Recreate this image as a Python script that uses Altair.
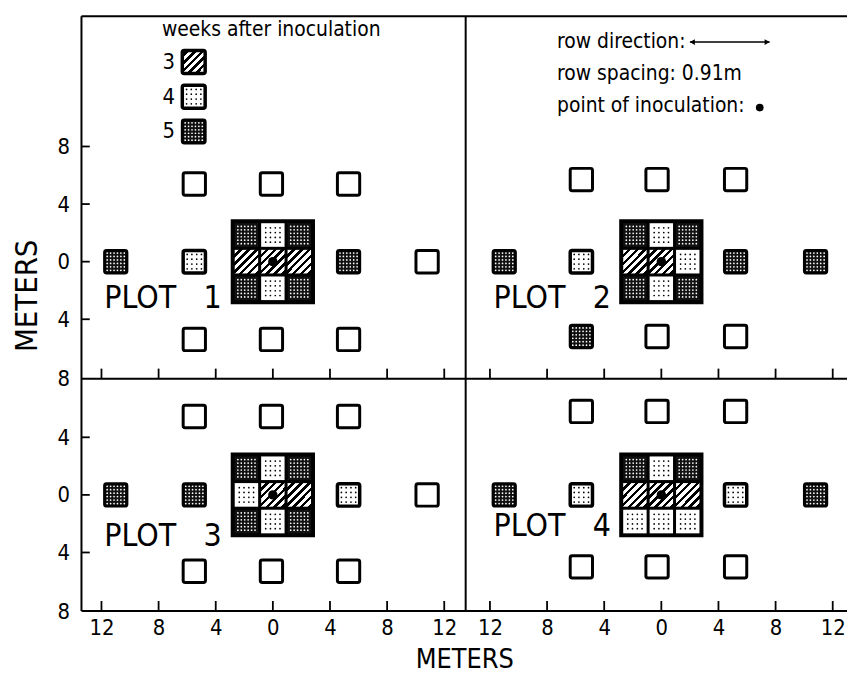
import altair as alt
import pandas as pd

FONT = "Liberation Sans Narrow, DejaVu Sans Condensed, sans-serif"

# ---------------- data (metres) ----------------
# panel offsets in one shared metre coordinate system (plot 1 top-left ... plot 4 bottom-right)
PANEL_DX = {1: 0.0, 2: 27.2, 3: 0.0, 4: 27.2}
PANEL_DY = {1: 16.2, 2: 16.2, 3: 0.0, 4: 0.0}
X_DOMAIN = [-13.4, 40.2]
Y_DOMAIN = [-8.07, 33.24]

# centre 3x3 block around the point of inoculation; weeks after inoculation, rows top -> bottom
block_cols = [-1.85, 0.0, 1.85]
block_rows = [1.85, 0.0, -1.85]
block_plot1 = [5, 4, 5, 3, 3, 3, 5, 4, 5]
block_plot2 = [5, 4, 5, 3, 3, 4, 5, 4, 5]
block_plot3 = [5, 4, 5, 4, 3, 3, 5, 4, 5]
block_plot4 = [5, 4, 5, 3, 3, 3, 4, 4, 4]
blocks = {1: block_plot1, 2: block_plot2, 3: block_plot3, 4: block_plot4}

# surrounding single plants (0 = no symptoms)
plants_x_left = [-5.5, -0.1, 5.3, -11.0, -5.5, 5.3, 10.8, -5.5, -0.1, 5.3]
plants_x_right = [-5.6, -0.3, 5.2, -11.0, -5.6, 5.2, 10.8, -5.6, -0.3, 5.2]
plot1_y = [5.4, 5.4, 5.4, 0, 0, 0, 0, -5.4, -5.4, -5.4]
plot2_y = [5.7, 5.7, 5.7, 0, 0, 0, 0, -5.2, -5.2, -5.2]
plot3_y = [5.45, 5.45, 5.45, 0, 0, 0, 0, -5.3, -5.3, -5.3]
plot4_y = [5.8, 5.8, 5.8, 0, 0, 0, 0, -5.0, -5.0, -5.0]
plot1_weeks = [0, 0, 0, 5, 4, 5, 0, 0, 0, 0]
plot2_weeks = [0, 0, 0, 5, 4, 5, 5, 5, 0, 0]
plot3_weeks = [0, 0, 0, 5, 5, 4, 0, 0, 0, 0]
plot4_weeks = [0, 0, 0, 5, 4, 4, 5, 0, 0, 0]
plants = {
    1: (plants_x_left, plot1_y, plot1_weeks),
    2: (plants_x_right, plot2_y, plot2_weeks),
    3: (plants_x_left, plot3_y, plot3_weeks),
    4: (plants_x_right, plot4_y, plot4_weeks),
}

# legend (plot 1) and notes (plot 2)
legend_weeks = [3, 4, 5]
legend_x = -5.54
legend_y = [13.87, 11.46, 9.04]
legend_title = "weeks after inoculation"
notes = ["row direction:", "row spacing: 0.91m", "point of inoculation:"]
notes_y = [15.25, 13.04, 10.83]

x_ticks_local = [-12, -8, -4, 0, 4, 8, 12]
y_ticks_local_top = [-4, 0, 4, 8]
y_ticks_local_bottom = [-4, 0, 4]

plot_labels = ["PLOT\u00a0\u00a0\u00a01", "PLOT\u00a0\u00a0\u00a02",
               "PLOT\u00a0\u00a0\u00a03", "PLOT\u00a0\u00a0\u00a04"]
plot_label_x = [-11.8, -11.75, -11.8, -11.75]
plot_label_y = [-2.54, -2.54, -2.83, -2.2]

# ---------------- build tables ----------------
sq = []
for p in (1, 2, 3, 4):
    dx, dy = PANEL_DX[p], PANEL_DY[p]
    for k, w in enumerate(blocks[p]):
        sq.append(dict(cx=block_cols[k % 3] + dx, cy=block_rows[k // 3] + dy, weeks=w, kind="cell"))
    xs, ys, ws = plants[p]
    for x, y, w in zip(xs, ys, ws):
        sq.append(dict(cx=x + dx, cy=y + dy, weeks=w, kind="plant"))
for w, y in zip(legend_weeks, legend_y):
    sq.append(dict(cx=legend_x + PANEL_DX[1], cy=y + PANEL_DY[1], weeks=w, kind="legend"))
sq = pd.DataFrame(sq)
half = sq["kind"].map({"cell": 0.82, "plant": 0.78, "legend": 0.8})
sq["gx"], sq["gx2"] = sq["cx"] - half, sq["cx"] + half
sq["gy"], sq["gy2"] = sq["cy"] - half, sq["cy"] + half

under = []
for p in (1, 2, 3, 4):
    dx, dy = PANEL_DX[p], PANEL_DY[p]
    under.append(dict(gx=-2.95 + dx, gx2=2.95 + dx, gy=-2.95 + dy, gy2=2.95 + dy))
under = pd.DataFrame(under)

# texture dots
dots = []
o4 = [-0.5, -0.17, 0.17, 0.5]
o5 = [-0.6, -0.36, -0.12, 0.12, 0.36, 0.6]
for r in sq.itertuples():
    if r.weeks == 4:
        for a in o4:
            for b in o4:
                dots.append(dict(gx=r.cx + a, gy=r.cy + b, c="k"))
    elif r.weeks == 5:
        for a in o5:
            for b in o5:
                dots.append(dict(gx=r.cx + a, gy=r.cy + b, c="w"))
dots = pd.DataFrame(dots)

inoc = pd.DataFrame([dict(gx=PANEL_DX[p], gy=PANEL_DY[p]) for p in (1, 2, 3, 4)]
                    + [dict(gx=6.89 + PANEL_DX[2], gy=10.7 + PANEL_DY[2])])
inoc["s"] = [90, 90, 90, 90, 60]

# frame and ticks
xl, xr = X_DOMAIN
yb, yt = Y_DOMAIN
xmid, ymid = 13.5, 8.07
frame = pd.DataFrame([
    dict(gx=xl, gy=yt, gx2=xr, gy2=yt),
    dict(gx=xl, gy=yb, gx2=xr, gy2=yb),
    dict(gx=xl, gy=ymid, gx2=xr, gy2=ymid),
    dict(gx=xl, gy=yb, gx2=xl, gy2=yt),
    dict(gx=xmid, gy=yb, gx2=xmid, gy2=yt),
])
ticks = []
x_tick_vals = []
for dx in (PANEL_DX[1], PANEL_DX[2]):
    for t in x_ticks_local:
        x_tick_vals.append(t + dx)
        for base in (yb, ymid):
            ticks.append(dict(gx=t + dx, gy=base, gx2=t + dx, gy2=base + 0.7))
y_tick_vals = [yb, ymid]
for t in y_ticks_local_top:
    v = t + PANEL_DY[1]
    y_tick_vals.append(v)
    ticks.append(dict(gx=xl, gy=v, gx2=xl + 0.58, gy2=v))
for t in y_ticks_local_bottom:
    y_tick_vals.append(t)
    ticks.append(dict(gx=xl, gy=t, gx2=xl + 0.58, gy2=t))
ticks = pd.DataFrame(ticks)

# texts
txt_plot = pd.DataFrame(dict(
    gx=[plot_label_x[i] + PANEL_DX[i + 1] for i in range(4)],
    gy=[plot_label_y[i] + PANEL_DY[i + 1] for i in range(4)],
    t=plot_labels))
txt_notes = pd.DataFrame(dict(
    gx=[-7.3 + PANEL_DX[2]] * 3 + [-7.77 + PANEL_DX[1]],
    gy=[y + PANEL_DY[2] for y in notes_y] + [16.08 + PANEL_DY[1]],
    t=notes + [legend_title]))
txt_leg = pd.DataFrame(dict(gx=[-6.86 + PANEL_DX[1]] * 3,
                            gy=[y + PANEL_DY[1] for y in legend_y],
                            t=[str(w) for w in legend_weeks]))
arrow = pd.DataFrame([dict(gx=2.0 + PANEL_DX[2], gx2=7.58 + PANEL_DX[2], gy=15.25 + PANEL_DY[2])])
heads = pd.DataFrame([dict(gx=2.17 + PANEL_DX[2], gy=15.25 + PANEL_DY[2], sh="triangle-left"),
                      dict(gx=7.41 + PANEL_DX[2], gy=15.25 + PANEL_DY[2], sh="triangle-right")])

# ---------------- scales / axes ----------------
xscale = alt.Scale(domain=X_DOMAIN, nice=False, zero=False)
yscale = alt.Scale(domain=Y_DOMAIN, nice=False, zero=False)
xaxis = alt.Axis(values=x_tick_vals,
                 labelExpr="datum.value > 13.5 ? '' + abs(round(datum.value - 27.2)) : '' + abs(round(datum.value))",
                 title="METERS", ticks=False, tickSize=0, domain=False, grid=False,
                 labelFont=FONT, labelFontSize=22, labelPadding=7, labelOverlap=False, labelFlush=False,
                 labelColor="black", titleFont=FONT, titleFontSize=27, titleFontWeight="normal",
                 titleColor="black", titlePadding=8)
yaxis = alt.Axis(values=y_tick_vals,
                 labelExpr="datum.value > 8.5 ? '' + abs(round(datum.value - 16.2)) : '' + abs(round(datum.value))",
                 title="METERS", ticks=False, tickSize=0, domain=False, grid=False,
                 labelFont=FONT, labelFontSize=22, labelPadding=12, labelOverlap=False, labelFlush=False,
                 labelBaseline="middle", labelColor="black",
                 titleFont=FONT, titleFontSize=31, titleFontWeight="normal", titleColor="black",
                 titleX=-54, titleY=281, titleAngle=270, titleBaseline="middle", titleAlign="center")

X = alt.X("gx:Q", scale=xscale, axis=xaxis)
Y = alt.Y("gy:Q", scale=yscale, axis=yaxis)

# hatch for week 3
stops = []
n = 6
for i in range(n):
    a, b, c = i / n, i / n + 0.55 / n, (i + 1) / n
    stops += [alt.GradientStop(color="white", offset=a), alt.GradientStop(color="white", offset=b),
              alt.GradientStop(color="black", offset=b), alt.GradientStop(color="black", offset=c)]
hatch = alt.LinearGradient(gradient="linear", stops=stops, x1=0, y1=0, x2=1, y2=1)

cells = sq["kind"] == "cell"
enc = dict(x=X, x2="gx2:Q", y=Y, y2="gy2:Q")

layers = [
    alt.Chart(frame).mark_rule(color="black", strokeWidth=2).encode(**enc),
    alt.Chart(ticks).mark_rule(color="black", strokeWidth=1.8).encode(**enc),
    alt.Chart(under).mark_rect(color="black").encode(**enc),
    # centre block cells (no stroke, black gaps from underlay)
    alt.Chart(sq[cells & (sq.weeks == 3)]).mark_rect(fill=hatch).encode(**enc),
    alt.Chart(sq[cells & (sq.weeks == 4)]).mark_rect(fill="white").encode(**enc),
    alt.Chart(sq[cells & (sq.weeks == 5)]).mark_rect(fill="#111111").encode(**enc),
    # single plants and legend swatches
    alt.Chart(sq[~cells & (sq.weeks == 0)]).mark_rect(fill="white", stroke="black", strokeWidth=3, cornerRadius=2).encode(**enc),
    alt.Chart(sq[~cells & (sq.weeks == 3)]).mark_rect(fill=hatch, stroke="black", strokeWidth=3.5, cornerRadius=2).encode(**enc),
    alt.Chart(sq[~cells & (sq.weeks == 4)]).mark_rect(fill="white", stroke="black", strokeWidth=3.5, cornerRadius=2).encode(**enc),
    alt.Chart(sq[~cells & (sq.weeks == 5)]).mark_rect(fill="#111111", stroke="black", strokeWidth=3, cornerRadius=2).encode(**enc),
    alt.Chart(dots[dots.c == "k"]).mark_circle(color="black", size=3, opacity=1).encode(x=X, y=Y),
    alt.Chart(dots[dots.c == "w"]).mark_circle(color="white", size=3, opacity=1).encode(x=X, y=Y),
    alt.Chart(inoc).mark_circle(color="black", opacity=1).encode(x=X, y=Y, size=alt.Size("s:Q", scale=None, legend=None)),
    alt.Chart(arrow).mark_rule(color="black", strokeWidth=1.5).encode(x=X, x2="gx2:Q", y=Y),
    alt.Chart(heads).mark_point(filled=True, color="black", size=35, opacity=1)
       .encode(x=X, y=Y, shape=alt.Shape("sh:N", scale=None, legend=None)),
    alt.Chart(txt_plot).mark_text(font=FONT, fontSize=32, align="left", baseline="middle", color="black")
       .encode(x=X, y=Y, text="t:N"),
    alt.Chart(txt_notes).mark_text(font=FONT, fontSize=21, align="left", baseline="middle", color="black")
       .encode(x=X, y=Y, text="t:N"),
    alt.Chart(txt_leg).mark_text(font=FONT, fontSize=22, align="right", baseline="middle", color="black")
       .encode(x=X, y=Y, text="t:N"),
]

chart = alt.layer(*layers).properties(
    width=771, height=599,
    padding={"left": 74, "top": 6, "right": 0, "bottom": 64},
    autosize=alt.AutoSizeParams(type="none"),
    background="white",
).configure_view(stroke=None)

chart.save("out.html", embed_options={"renderer": "svg", "actions": False})
